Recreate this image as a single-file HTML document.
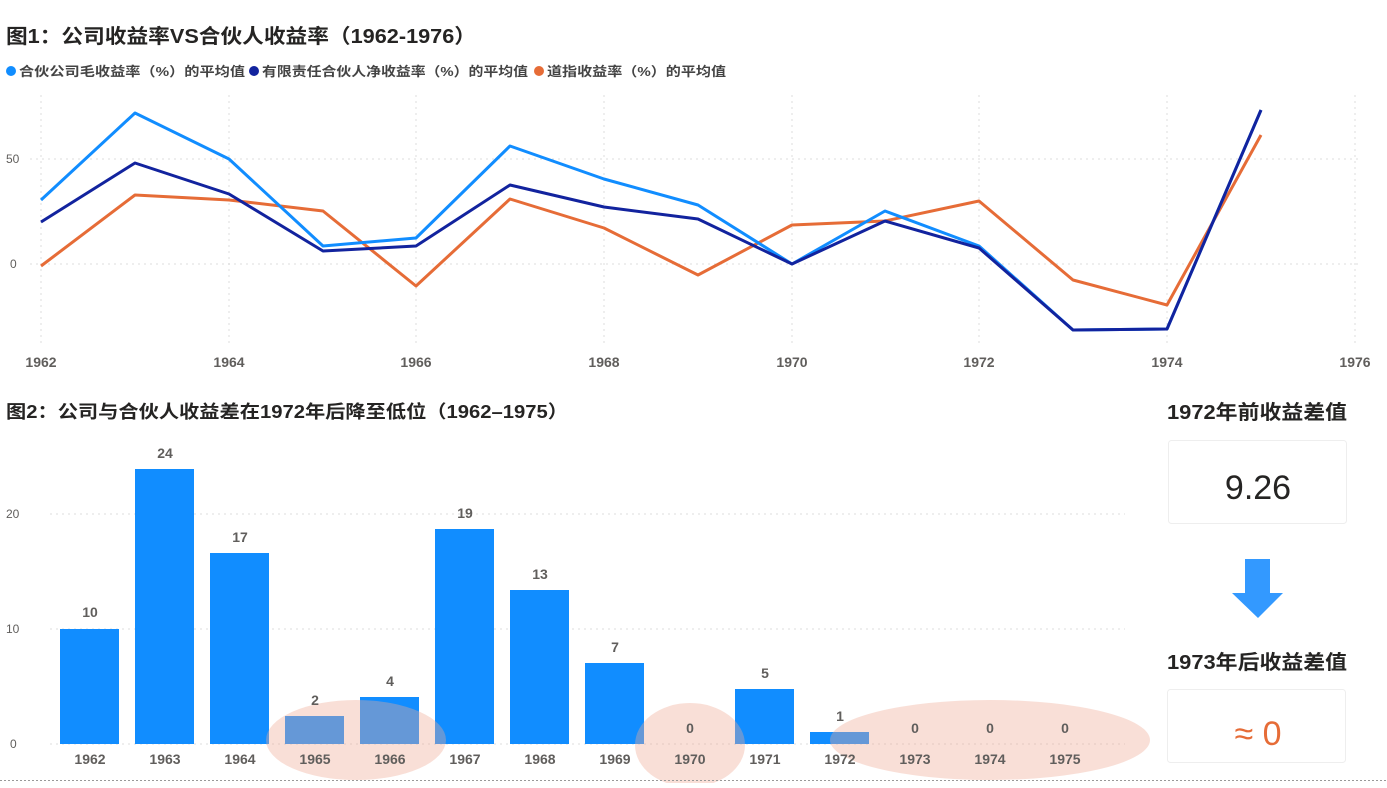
<!DOCTYPE html>
<html><head><meta charset="utf-8"><style>
body{margin:0;width:1387px;height:783px;background:#fff;overflow:hidden;font-family:"Liberation Sans","Noto Sans CJK SC",sans-serif;}
</style></head><body>
<svg width="1387" height="783" xmlns="http://www.w3.org/2000/svg" font-family="Liberation Sans, Noto Sans CJK SC, sans-serif">
<text x="6" y="43" font-size="20" font-weight="bold" fill="#252423" textLength="470" lengthAdjust="spacingAndGlyphs">图1：公司收益率VS合伙人收益率（1962-1976）</text>
<g font-size="13" font-weight="bold" fill="#444">
<circle cx="11" cy="71" r="5" fill="#118dff"/><text x="19" y="76" textLength="226" lengthAdjust="spacingAndGlyphs">合伙公司毛收益率（%）的平均值</text>
<circle cx="254" cy="71" r="5" fill="#12239e"/><text x="262" y="76" textLength="266" lengthAdjust="spacingAndGlyphs">有限责任合伙人净收益率（%）的平均值</text>
<circle cx="539" cy="71" r="5" fill="#e66c37"/><text x="547" y="76" textLength="179" lengthAdjust="spacingAndGlyphs">道指收益率（%）的平均值</text>
</g>
<g stroke="#ddd" stroke-dasharray="2,4" stroke-width="1">
<line x1="41" y1="95" x2="41" y2="345"/><line x1="229" y1="95" x2="229" y2="345"/><line x1="416" y1="95" x2="416" y2="345"/><line x1="604" y1="95" x2="604" y2="345"/><line x1="792" y1="95" x2="792" y2="345"/><line x1="979" y1="95" x2="979" y2="345"/><line x1="1167" y1="95" x2="1167" y2="345"/><line x1="1355" y1="95" x2="1355" y2="345"/>
<line x1="30" y1="159" x2="1360" y2="159"/><line x1="30" y1="264" x2="1360" y2="264"/>
</g>
<g font-size="12" fill="#605e5c"><text x="6" y="163">50</text><text x="10" y="268">0</text></g>
<g font-size="14" font-weight="bold" fill="#605e5c" text-anchor="middle">
<text x="41" y="367">1962</text><text x="229" y="367">1964</text><text x="416" y="367">1966</text><text x="604" y="367">1968</text><text x="792" y="367">1970</text><text x="979" y="367">1972</text><text x="1167" y="367">1974</text><text x="1355" y="367">1976</text>
</g>
<g fill="none" stroke-width="3" stroke-linejoin="round">
<polyline stroke="#e66c37" points="41,266 135,195 229,200 323,211 416,286 510,199 604,228 698,275 792,225 885,221 979,201 1073,280 1167,305 1261,135"/>
<polyline stroke="#118dff" points="41,200 135,113 229,159 323,246 416,238 510,146 604,179 698,205 792,264 885,211 979,246 1073,330 1167,329 1261,110"/>
<polyline stroke="#12239e" points="41,222 135,163 229,194 323,251 416,246 510,185 604,207 698,219 792,264 885,221 979,248 1073,330 1167,329 1261,110"/>
</g>
<text x="6" y="418" font-size="18" font-weight="bold" fill="#252423" textLength="562" lengthAdjust="spacingAndGlyphs">图2：公司与合伙人收益差在1972年后降至低位（1962–1975）</text>
<g stroke="#ddd" stroke-dasharray="2,4"><line x1="50" y1="514" x2="1125" y2="514"/><line x1="50" y1="629" x2="1125" y2="629"/><line x1="50" y1="744" x2="1125" y2="744"/></g>
<g font-size="12" fill="#605e5c"><text x="6" y="518">20</text><text x="6" y="633">10</text><text x="10" y="748">0</text></g>
<g fill="#118dff">
<rect x="60" y="629" width="59" height="115"/><rect x="135" y="469" width="59" height="275"/><rect x="210" y="553" width="59" height="191"/><rect x="285" y="716" width="59" height="28"/><rect x="360" y="697" width="59" height="47"/><rect x="435" y="529" width="59" height="215"/><rect x="510" y="590" width="59" height="154"/><rect x="585" y="663" width="59" height="81"/><rect x="735" y="689" width="59" height="55"/><rect x="810" y="732" width="59" height="12"/>
</g>
<g fill="rgba(240,170,150,0.38)">
<ellipse cx="356" cy="740" rx="90" ry="40"/><ellipse cx="690" cy="745" rx="55" ry="42"/><ellipse cx="990" cy="740" rx="160" ry="40"/>
</g>
<g font-size="14" font-weight="bold" fill="#605e5c" text-anchor="middle">
<text x="90" y="617">10</text><text x="165" y="458">24</text><text x="240" y="542">17</text><text x="315" y="705">2</text><text x="390" y="686">4</text><text x="465" y="518">19</text><text x="540" y="579">13</text><text x="615" y="652">7</text><text x="690" y="733">0</text><text x="765" y="678">5</text><text x="840" y="721">1</text><text x="915" y="733">0</text><text x="990" y="733">0</text><text x="1065" y="733">0</text>
</g>
<g font-size="14" font-weight="bold" fill="#605e5c" text-anchor="middle">
<text x="90" y="764">1962</text><text x="165" y="764">1963</text><text x="240" y="764">1964</text><text x="315" y="764">1965</text><text x="390" y="764">1966</text><text x="465" y="764">1967</text><text x="540" y="764">1968</text><text x="615" y="764">1969</text><text x="690" y="764">1970</text><text x="765" y="764">1971</text><text x="840" y="764">1972</text><text x="915" y="764">1973</text><text x="990" y="764">1974</text><text x="1065" y="764">1975</text>
</g>
<text x="1257" y="419" font-size="20" font-weight="bold" fill="#252423" text-anchor="middle" textLength="180" lengthAdjust="spacingAndGlyphs">1972年前收益差值</text>
<rect x="1168.5" y="440.5" width="178" height="83" rx="3" fill="#fff" stroke="#eee"/>
<text x="1258" y="499" font-size="34" fill="#252423" text-anchor="middle">9.26</text>
<polygon points="1245,559 1270,559 1270,593 1283,593 1258,618 1232,593 1245,593" fill="#3399ff"/>
<text x="1257" y="669" font-size="20" font-weight="bold" fill="#252423" text-anchor="middle" textLength="180" lengthAdjust="spacingAndGlyphs">1973年后收益差值</text>
<rect x="1167.5" y="689.5" width="178" height="73" rx="3" fill="#fff" stroke="#eee"/>
<text x="1258" y="745" font-size="34" fill="#e66c37" text-anchor="middle">≈ 0</text>
<line x1="0" y1="780.5" x2="1387" y2="780.5" stroke="#999" stroke-dasharray="2,2"/>
</svg>
</body></html>
